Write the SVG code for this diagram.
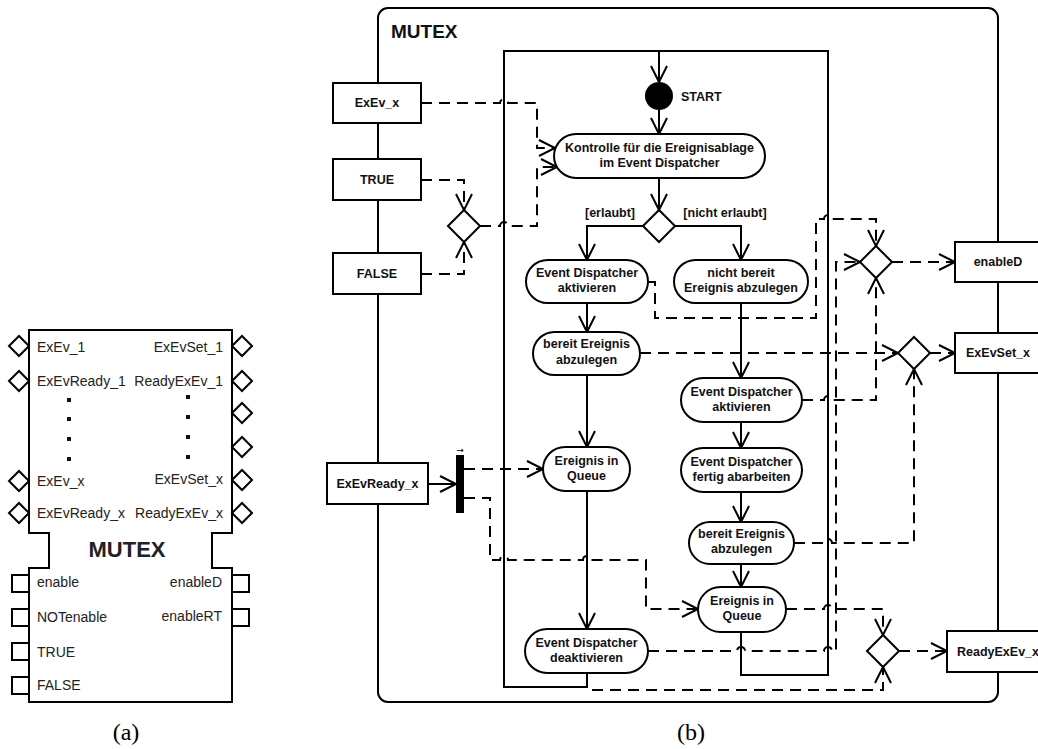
<svg xmlns="http://www.w3.org/2000/svg" width="1038" height="749" viewBox="0 0 1038 749">
  <style>
    .ln { fill: none; stroke: #000; stroke-width: 2; }
    .ds { fill: none; stroke: #000; stroke-width: 2; stroke-dasharray: 11 7; }
    .nd { fill: #fff; stroke: #000; stroke-width: 2; }
    .lbl { font-family: "Liberation Sans", Arial, sans-serif; font-size: 14px; fill: #222; }
    .b { font-family: "Liberation Sans", Arial, sans-serif; font-weight: bold; font-size: 12.5px; fill: #111; text-anchor: middle; }
    .bs { font-family: "Liberation Sans", Arial, sans-serif; font-weight: bold; font-size: 12.5px; fill: #111; text-anchor: start; }
    .cap { font-family: "Liberation Serif", "Times New Roman", serif; font-size: 24px; fill: #000; text-anchor: middle; }
  </style>
  <defs>
    <marker id="v" markerUnits="userSpaceOnUse" markerWidth="20" markerHeight="20" viewBox="-18 -10 20 20" refX="0" refY="0" orient="auto" overflow="visible">
      <path d="M-16,-8 L0,0 L-16,8" fill="none" stroke="#000" stroke-width="2" stroke-dasharray="none"/>
    </marker>
  </defs>
  <rect width="1038" height="749" fill="#fff"/>

  <!-- (a) function block -->
  <g id="block-a">
    <path class="nd" d="M29,330 H232 V533 H212 V568 H232 V702 H29 V568 H49 V533 H29 Z"/>
    <text x="127" y="557" font-family="Liberation Sans, Arial, sans-serif" font-weight="bold" font-size="22" text-anchor="middle" fill="#222">MUTEX</text>
    <g class="nd">
      <polygon points="9,346 19,336 29,346 19,356"/>
      <polygon points="9,381 19,371 29,381 19,391"/>
      <polygon points="9,481 19,471 29,481 19,491"/>
      <polygon points="9,513 19,503 29,513 19,523"/>
      <polygon points="232,346 242,336 252,346 242,356"/>
      <polygon points="232,381 242,371 252,381 242,391"/>
      <polygon points="232,413 242,403 252,413 242,423"/>
      <polygon points="232,447 242,437 252,447 242,457"/>
      <polygon points="232,480 242,470 252,480 242,490"/>
      <polygon points="232,513 242,503 252,513 242,523"/>
      <rect x="12" y="575" width="17" height="17"/>
      <rect x="12" y="609" width="17" height="17"/>
      <rect x="12" y="643" width="17" height="17"/>
      <rect x="12" y="677" width="17" height="17"/>
      <rect x="232" y="575" width="17" height="17"/>
      <rect x="232" y="609" width="17" height="17"/>
    </g>
    <g fill="#111">
      <rect x="67" y="398" width="4" height="4"/>
      <rect x="67" y="417" width="4" height="4"/>
      <rect x="67" y="437" width="4" height="4"/>
      <rect x="67" y="457" width="4" height="4"/>
      <rect x="186" y="395" width="4" height="4"/>
      <rect x="186" y="415" width="4" height="4"/>
      <rect x="186" y="435" width="4" height="4"/>
      <rect x="186" y="455" width="4" height="4"/>
    </g>
    <g class="lbl">
      <text x="37" y="352">ExEv_1</text>
      <text x="37" y="386">ExEvReady_1</text>
      <text x="37" y="486">ExEv_x</text>
      <text x="37" y="518">ExEvReady_x</text>
      <text x="37" y="587">enable</text>
      <text x="37" y="622">NOTenable</text>
      <text x="37" y="657">TRUE</text>
      <text x="37" y="690">FALSE</text>
    </g>
    <g class="lbl" text-anchor="end">
      <text x="223" y="352">ExEvSet_1</text>
      <text x="223" y="386">ReadyExEv_1</text>
      <text x="223" y="484">ExEvSet_x</text>
      <text x="223" y="518">ReadyExEv_x</text>
      <text x="222" y="587">enableD</text>
      <text x="222" y="621">enableRT</text>
    </g>
  </g>
  <text class="cap" x="126" y="740">(a)</text>

  <!-- (b) behaviour of the MUTEX block -->
  <g id="frame-b">
    <rect class="ln" x="378" y="8" width="620" height="694" rx="10" ry="10"/>
    <text x="391" y="38" font-family="Liberation Sans, Arial, sans-serif" font-weight="bold" font-size="19" fill="#111">MUTEX</text>
  </g>

  <!-- control flow and signal lines -->
  <g id="connectors">
    <!-- control flow (solid) -->
    <path class="ln" d="M587,673 V687 H504 V51 H828 V675 H741 V632"/>
    <g class="ln" marker-end="url(#v)">
      <path d="M659,51 V82"/>
      <path d="M659,110 V134"/>
      <path d="M659,178 V210"/>
      <path d="M643,226 H587 V260"/>
      <path d="M675,226 H741 V260"/>
      <path d="M587,303 V332"/>
      <path d="M587,375 V447"/>
      <path d="M587,491 V629"/>
      <path d="M741,303 V378"/>
      <path d="M741,422 V448"/>
      <path d="M741,492 V522"/>
      <path d="M741,564 V587"/>
      <path d="M428,484 H456"/>
    </g>
    <!-- signal lines (dashed) -->
    <g class="ds" marker-end="url(#v)">
      <path d="M421,103 H500 a4,4 0 0 1 8,0 H537 V148 H555"/>
      <path d="M480,226 H500 a4,4 0 0 1 8,0 H537 V167 H557"/>
      <path d="M421,180 H464 V210"/>
      <path d="M421,274 H464 V242"/>
      <path d="M648,282 H655 V318 H816 V219 H824 a4,4 0 0 1 8,0 H876 V246"/>
      <path d="M648,651 H737 a4,4 0 0 1 8,0 H824 a4,4 0 0 1 8,0 H836 V262 H860"/>
      <path d="M802,400 H824 a4,4 0 0 1 8,0 H876 V278"/>
      <path d="M640,353 H898"/>
      <path d="M794,543 H824 a4,4 0 0 1 8,0 H914 V369"/>
      <path d="M892,262 H955"/>
      <path d="M930,353 H955"/>
      <path d="M464,469 H543"/>
      <path d="M464,498 H490 V560 H500 a4,4 0 0 1 8,0 H583 a4,4 0 0 1 8,0 H646 V609 H698"/>
      <path d="M786,609 H824 a4,4 0 0 1 8,0 H883 V635"/>
      <path d="M592,690 H883 V667"/>
      <path d="M899,651 H947"/>
    </g>
  </g>

  <!-- interface boxes -->
  <g id="in-exev">
    <rect class="nd" x="333" y="83" width="88" height="40"/>
    <text class="b" x="377" y="107">ExEv_x</text>
  </g>
  <g id="in-true">
    <rect class="nd" x="333" y="159" width="88" height="41"/>
    <text class="b" x="377" y="184">TRUE</text>
  </g>
  <g id="in-false">
    <rect class="nd" x="333" y="253" width="88" height="41"/>
    <text class="b" x="377" y="278">FALSE</text>
  </g>
  <g id="in-exevready">
    <rect class="nd" x="327" y="463" width="101" height="41"/>
    <text class="b" x="377.5" y="488">ExEvReady_x</text>
  </g>
  <g id="out-enabled">
    <rect class="nd" x="955" y="242" width="86" height="40"/>
    <text class="b" x="998" y="266">enableD</text>
  </g>
  <g id="out-exevset">
    <rect class="nd" x="955" y="333" width="86" height="40"/>
    <text class="b" x="998" y="357">ExEvSet_x</text>
  </g>
  <g id="out-readyexev">
    <rect class="nd" x="947" y="631" width="102" height="41"/>
    <text class="b" x="998" y="656">ReadyExEv_x</text>
  </g>

  <!-- decisions / merges -->
  <g id="dec-bool"><polygon class="nd" points="448,226 464,210 480,226 464,242"/></g>
  <g id="dec-allowed">
    <polygon class="nd" points="643,226 659,210 675,226 659,242"/>
    <text class="b" x="610" y="217">[erlaubt]</text>
    <text class="b" x="725" y="217">[nicht erlaubt]</text>
  </g>
  <g id="merge-enabled"><polygon class="nd" points="860,262 876,246 892,262 876,278"/></g>
  <g id="merge-exevset"><polygon class="nd" points="898,353 914,337 930,353 914,369"/></g>
  <g id="merge-readyexev"><polygon class="nd" points="867,651 883,635 899,651 883,667"/></g>

  <!-- fork bar -->
  <g id="fork">
    <rect x="456" y="455" width="8" height="58" fill="#000"/>
    <text x="460" y="453" font-family="DejaVu Sans, sans-serif" font-size="9" text-anchor="middle">→</text>
  </g>

  <!-- start node -->
  <g id="start">
    <circle cx="659" cy="96" r="14" fill="#000"/>
    <text class="bs" x="681" y="101">START</text>
  </g>

  <!-- actions -->
  <g id="act-kontrolle">
    <rect class="nd" x="554" y="134" width="211" height="44" rx="22"/>
    <text class="b" x="659.5" y="152">Kontrolle für die Ereignisablage</text>
    <text class="b" x="659.5" y="167">im Event Dispatcher</text>
  </g>
  <g id="act-ed-akt-1">
    <rect class="nd" x="526" y="260" width="122" height="43" rx="21.5"/>
    <text class="b" x="587" y="277">Event Dispatcher</text>
    <text class="b" x="587" y="292">aktivieren</text>
  </g>
  <g id="act-nicht-bereit">
    <rect class="nd" x="674" y="260" width="134" height="43" rx="21.5"/>
    <text class="b" x="741" y="277">nicht bereit</text>
    <text class="b" x="741" y="292">Ereignis abzulegen</text>
  </g>
  <g id="act-bereit-1">
    <rect class="nd" x="533" y="332" width="107" height="43" rx="21.5"/>
    <text class="b" x="586.5" y="348">bereit Ereignis</text>
    <text class="b" x="586.5" y="364">abzulegen</text>
  </g>
  <g id="act-queue-1">
    <rect class="nd" x="543" y="447" width="87" height="44" rx="22"/>
    <text class="b" x="586.5" y="465">Ereignis in</text>
    <text class="b" x="586.5" y="480">Queue</text>
  </g>
  <g id="act-ed-deakt">
    <rect class="nd" x="525" y="629" width="123" height="44" rx="22"/>
    <text class="b" x="586.5" y="647">Event Dispatcher</text>
    <text class="b" x="586.5" y="662">deaktivieren</text>
  </g>
  <g id="act-ed-akt-2">
    <rect class="nd" x="681" y="378" width="121" height="44" rx="22"/>
    <text class="b" x="741.5" y="396">Event Dispatcher</text>
    <text class="b" x="741.5" y="411">aktivieren</text>
  </g>
  <g id="act-ed-fertig">
    <rect class="nd" x="681" y="448" width="121" height="44" rx="22"/>
    <text class="b" x="741.5" y="466">Event Dispatcher</text>
    <text class="b" x="741.5" y="481">fertig abarbeiten</text>
  </g>
  <g id="act-bereit-2">
    <rect class="nd" x="689" y="522" width="105" height="42" rx="21"/>
    <text class="b" x="741.5" y="538">bereit Ereignis</text>
    <text class="b" x="741.5" y="553">abzulegen</text>
  </g>
  <g id="act-queue-2">
    <rect class="nd" x="698" y="587" width="88" height="45" rx="22.5"/>
    <text class="b" x="742" y="605">Ereignis in</text>
    <text class="b" x="742" y="620">Queue</text>
  </g>
  <text class="cap" x="691" y="740">(b)</text>
</svg>
